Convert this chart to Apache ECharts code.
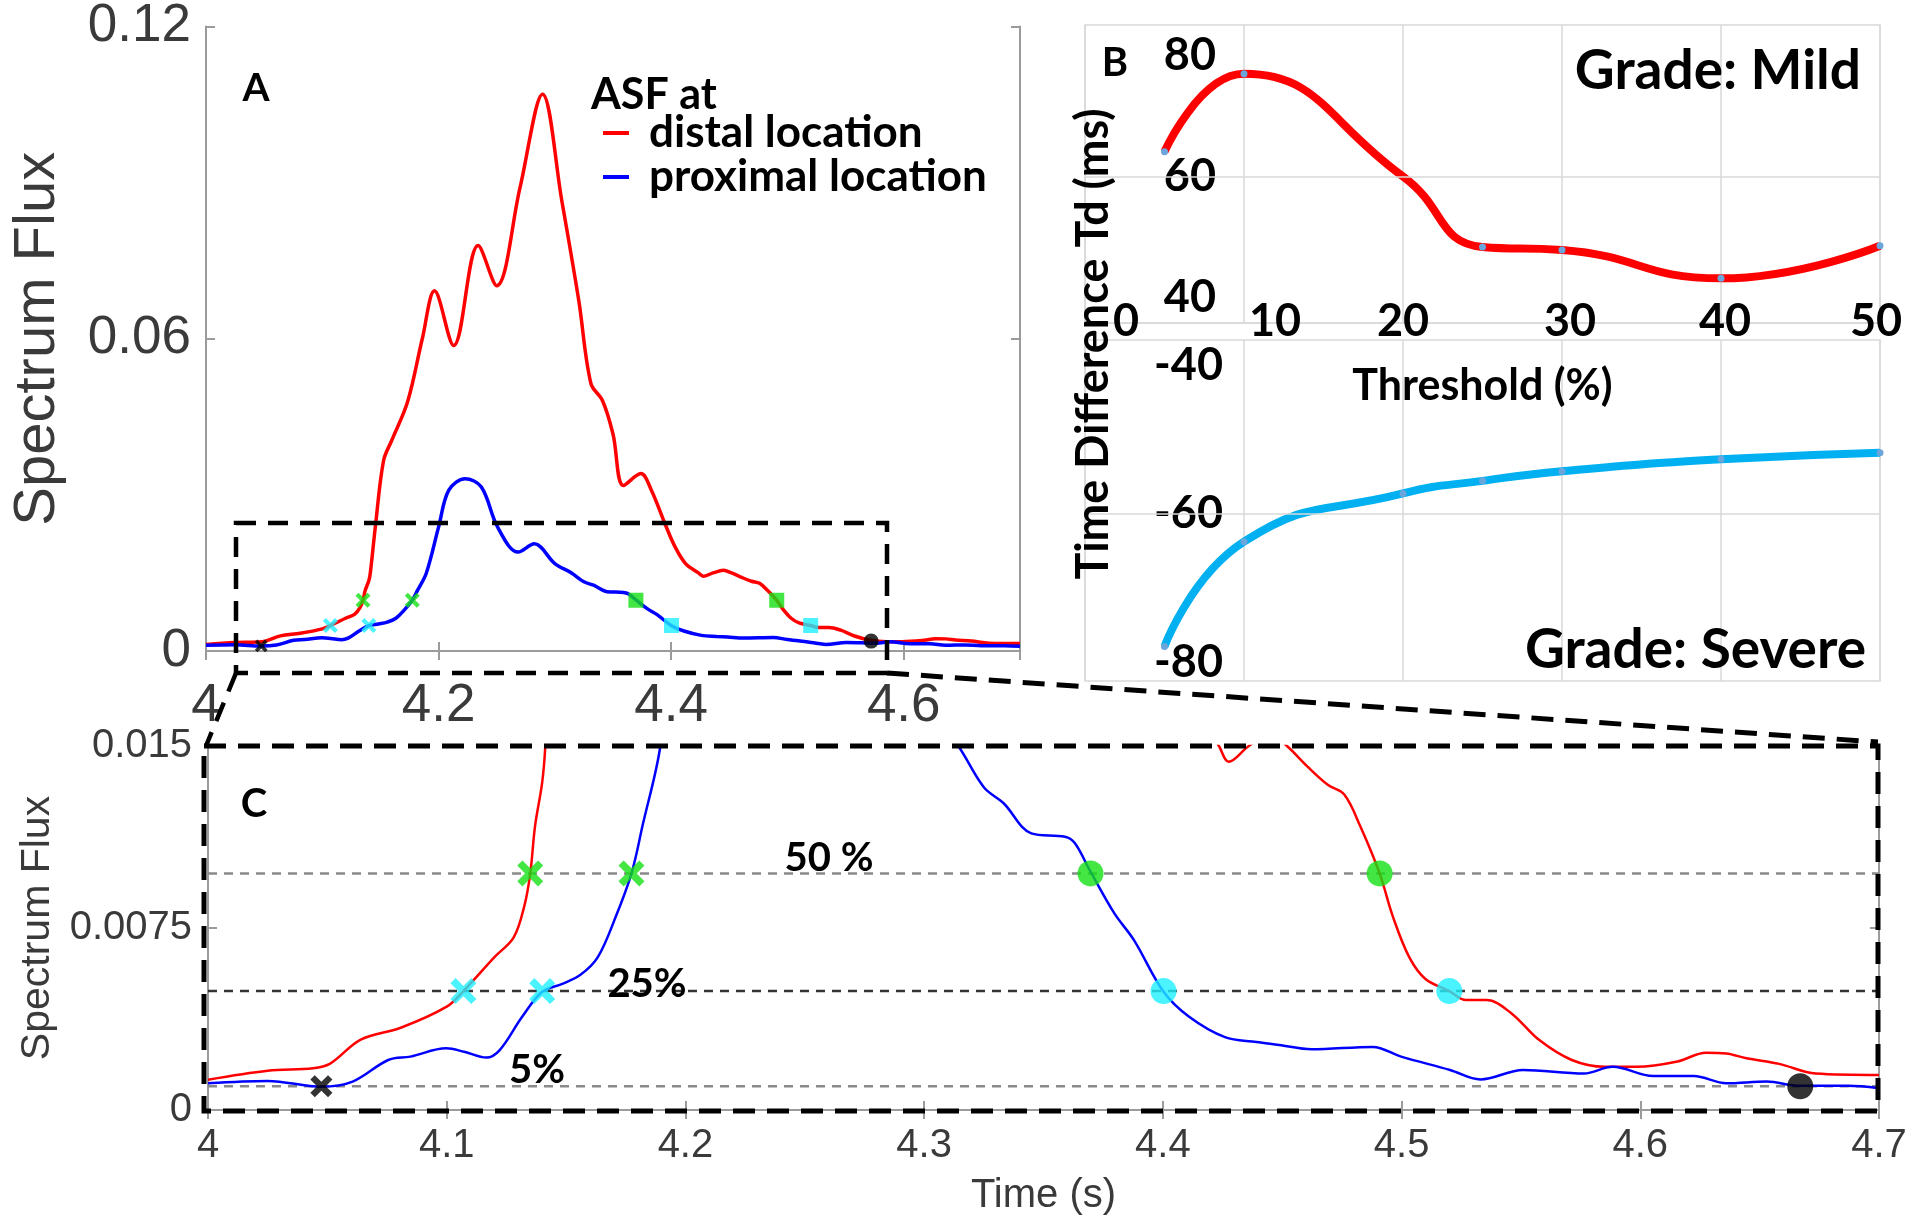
<!DOCTYPE html>
<html><head><meta charset="utf-8">
<script src="https://cdn.jsdelivr.net/npm/echarts@6/dist/echarts.min.js"></script>
<style>html,body{margin:0;padding:0;background:#fff}#c{width:1918px;height:1227px}</style>
</head><body><div id="c"></div>
<script>
// ---------- Panels A and C : spectrum flux of the ASF signals ----------
const distalTime = [
  4.000, 4.025, 4.044, 4.051, 4.064, 4.081, 4.100, 4.107, 4.120, 4.128,
  4.1325, 4.135, 4.137, 4.140, 4.1413, 4.1456, 4.1527, 4.1596, 4.1735, 4.186,
  4.1965, 4.213, 4.234, 4.250, 4.270, 4.2894, 4.306, 4.3206, 4.331, 4.341,
  4.350, 4.359, 4.374, 4.383, 4.3946, 4.4034, 4.4124, 4.4235, 4.4276, 4.436,
  4.445, 4.452, 4.4606, 4.4691, 4.476, 4.4828, 4.4908, 4.4964, 4.5032, 4.510,
  4.520, 4.527, 4.5356, 4.5458, 4.5577, 4.5713, 4.585, 4.5986, 4.6156, 4.6275,
  4.636, 4.6445, 4.6582, 4.6735, 4.700
];
const distalFlux = [
  0.00125, 0.00162, 0.00172, 0.0019, 0.0029, 0.0034, 0.00426, 0.0049, 0.0063, 0.0071,
  0.0084, 0.00975, 0.0117, 0.0135, 0.015, 0.0238, 0.0366, 0.0404, 0.048, 0.060,
  0.0692, 0.0587, 0.0779, 0.0702, 0.089, 0.107, 0.0865, 0.0673, 0.0514, 0.0481,
  0.0417, 0.0318, 0.0341, 0.0309, 0.0245, 0.020, 0.0168, 0.015, 0.01435, 0.015,
  0.0155, 0.015, 0.01415, 0.0134, 0.013, 0.01167, 0.00975, 0.00796, 0.0063, 0.0054,
  0.0049, 0.00453, 0.00453, 0.004, 0.00288, 0.00206, 0.00178, 0.00178, 0.002, 0.00236,
  0.00233, 0.00213, 0.0019, 0.0015, 0.00144
];
const proximalTime = [
  4.000, 4.025, 4.0475, 4.0606, 4.0755, 4.0848, 4.0998, 4.1073, 4.1166, 4.1222,
  4.1316, 4.140, 4.1484, 4.1559, 4.1633, 4.1708, 4.1774, 4.182, 4.1895, 4.200,
  4.2088, 4.2228, 4.2368, 4.2508, 4.2684, 4.2824, 4.300, 4.3143, 4.325, 4.3333,
  4.3449, 4.359, 4.3631, 4.3697, 4.3797, 4.3879, 4.4003, 4.411, 4.426, 4.4392,
  4.4487, 4.4623, 4.4879, 4.4998, 4.5203, 4.533, 4.5509, 4.5764, 4.5884, 4.6054,
  4.6224, 4.636, 4.653, 4.6667, 4.687, 4.700
];
const proximalFlux = [
  0.0011, 0.0012, 0.00096, 0.00117, 0.00206, 0.0022, 0.00254, 0.0024, 0.00216, 0.00247,
  0.00384, 0.00487, 0.0052, 0.00556, 0.0063, 0.00796, 0.00975, 0.0117, 0.015, 0.0238,
  0.0309, 0.0331, 0.0315, 0.0238, 0.019, 0.0206, 0.0168, 0.015, 0.0133, 0.01264,
  0.0114, 0.01126, 0.011, 0.00982, 0.0081, 0.007, 0.00487, 0.00384, 0.003, 0.0028,
  0.00268, 0.0025, 0.0026, 0.0022, 0.00165, 0.00126, 0.00165, 0.0015, 0.00178, 0.0014,
  0.0014, 0.0011, 0.00117, 0.001, 0.001, 0.0009
];

// threshold levels : 50 %, 25 %, 5 %
const thresholdNames = ['50 %', '25%', '5%'];
const thresholdLevels = [0.00975, 0.0049, 0.00098];
const timeRange = [4.0, 4.7];

// crossing times [50 %, 25 %]
const distalRiseTimes = [4.135, 4.107];
const proximalRiseTimes = [4.1774, 4.140];
const proximalFallTimes = [4.3697, 4.4003];
const distalFallTimes = [4.4908, 4.520];
const onsetTime = 4.0475;
const offsetTimeA = 4.572, offsetFluxA = 0.0019;
const offsetTimeC = 4.667;

// ---------- Panel B : time difference vs threshold ----------
const mildThreshold = [5, 10, 20, 25, 30, 40, 50];
const mildTd = [64.1, 77.0, 60.0, 48.3, 47.8, 43.1, 48.5];
const mildHasMarker = [true, true, false, true, true, true, true];
const severeThreshold = [5, 10, 20, 25, 30, 40, 50];
const severeTd = [-77.9, -63.8, -57.3, -55.6, -54.3, -52.7, -51.8];
const mildTicks = [40, 60, 80];
const severeTicks = [-80, -60, -40];

// ---------- helpers ----------
const pairs = (xs, ys) => xs.map((x, i) => [x, ys[i]]);
const AX = '#9b9b9b', TXT = '#3a3a3a', ARIAL = 'Liberation Sans, Arial, sans-serif', CAL = 'Lato, sans-serif';
const GREEN = '#14e014', CYAN = '#1ef0ff', GRIDC = '#d9d9d9';
const XSYM = 'path://M2,0 L5,3 L8,0 L10,2 L7,5 L10,8 L8,10 L5,7 L2,10 L0,8 L3,5 L0,2 Z';
const boxAxis = (extra) => Object.assign({
  type: 'value',
  axisLine: { show: true, lineStyle: { color: AX, width: 2 } },
  axisTick: { show: true, inside: true, length: 9, lineStyle: { color: AX, width: 2 } },
  splitLine: { show: false }
}, extra);

const lvl = thresholdLevels;
function markerSeries(xi, yi, ax, size, fallShape) {
  return [
    { name: 'rise50', type: 'scatter', xAxisIndex: xi, yAxisIndex: yi, symbol: XSYM, symbolSize: size,
      itemStyle: { color: GREEN }, z: 5,
      data: [[distalRiseTimes[0], lvl[0]], [proximalRiseTimes[0], lvl[0]]] },
    { name: 'rise25', type: 'scatter', xAxisIndex: xi, yAxisIndex: yi, symbol: XSYM, symbolSize: size,
      itemStyle: { color: CYAN }, z: 5,
      data: [[distalRiseTimes[1], lvl[1]], [proximalRiseTimes[1], lvl[1]]] },
    { name: 'onset', type: 'scatter', xAxisIndex: xi, yAxisIndex: yi, symbol: XSYM, symbolSize: size * 0.85,
      itemStyle: { color: '#000' }, z: 5, data: [[onsetTime, lvl[2]]] },
    { name: 'fall50', type: 'scatter', xAxisIndex: xi, yAxisIndex: yi, symbol: fallShape, symbolSize: size,
      itemStyle: { color: GREEN }, z: 5,
      data: [[proximalFallTimes[0], lvl[0]], [distalFallTimes[0], lvl[0]]] },
    { name: 'fall25', type: 'scatter', xAxisIndex: xi, yAxisIndex: yi, symbol: fallShape, symbolSize: size,
      itemStyle: { color: CYAN }, z: 5,
      data: [[proximalFallTimes[1], lvl[1]], [distalFallTimes[1], lvl[1]]] },
    { name: 'offset', type: 'scatter', xAxisIndex: xi, yAxisIndex: yi, symbol: 'circle', symbolSize: size,
      itemStyle: { color: '#000' }, z: 5,
      data: ax === 'A' ? [[offsetTimeA, offsetFluxA]] : [[offsetTimeC, lvl[2]]] }
  ];
}
const thresholdColors = ['#8a8a8a', '#333333', '#8a8a8a'];
const thresholdSeries = thresholdLevels.map((v, i) => ({
  name: 'threshold ' + thresholdNames[i], type: 'line', xAxisIndex: 2, yAxisIndex: 2,
  data: timeRange.map(t => [t, v]), symbol: 'none', silent: true, z: 2,
  lineStyle: { color: thresholdColors[i], type: [9, 7], width: 2.5 }
}));

const shiftB = { 0: [0, 0, 0, 82], 10: [0, 0, 0, 62], 30: [0, 0, 0, 16], 40: [0, 0, 0, 8], 50: [0, 8, 0, 0] };
const bLabelStyle = { fontFamily: CAL, fontWeight: 'bold', fontSize: 45, color: '#000' };
const richB = {};
Object.keys(shiftB).forEach(k => { richB['s' + k] = Object.assign({ padding: shiftB[k] }, bLabelStyle); });
richB.n = Object.assign({}, bLabelStyle);
const gridLineMark = (v) => ({ silent: true, symbol: 'none', label: { show: false },
  lineStyle: { color: GRIDC, type: 'solid', width: 1.5 }, data: [{ yAxis: v }] });

const option = {
  animation: false,
  backgroundColor: '#fff',
  grid: [
    { left: 206, top: 25, width: 814, height: 626, containLabel: false },
    { left: 208, top: 746, width: 1671, height: 364, containLabel: false },
    { left: 1085, top: 25, width: 795, height: 298, containLabel: false,
      show: true, borderColor: GRIDC, borderWidth: 1.5, backgroundColor: 'transparent' },
    { left: 1085, top: 340, width: 795, height: 341, containLabel: false,
      show: true, borderColor: GRIDC, borderWidth: 1.5, backgroundColor: 'transparent' }
  ],
  xAxis: [
    boxAxis({ gridIndex: 0, min: 4, max: 4.7, interval: 0.2,
      axisLabel: { fontFamily: ARIAL, fontSize: 53, color: TXT, margin: 29, showMaxLabel: false } }),
    boxAxis({ gridIndex: 0, position: 'top', min: 4, max: 4.7, interval: 0.2, axisLabel: { show: false } }),
    boxAxis({ gridIndex: 1, min: 4, max: 4.7, interval: 0.1,
      axisLabel: { fontFamily: ARIAL, fontSize: 40, color: TXT, margin: 16 },
      name: 'Time (s)', nameLocation: 'middle', nameGap: 66,
      nameTextStyle: { fontFamily: ARIAL, fontSize: 40, color: TXT } }),
    boxAxis({ gridIndex: 1, position: 'top', min: 4, max: 4.7, interval: 0.1, axisLabel: { show: false } }),
    { type: 'value', gridIndex: 2, min: 0, max: 50, interval: 10,
      axisLine: { show: true, lineStyle: { color: GRIDC, width: 1.5 } },
      axisTick: { show: false },
      axisLabel: { inside: true, margin: -21,
        formatter: v => (shiftB[v] ? '{s' + v + '|' + v + '}' : '{n|' + v + '}'), rich: richB },
      splitLine: { show: true, lineStyle: { color: GRIDC, width: 1.5 } },
      name: 'Threshold (%)', nameLocation: 'middle', nameGap: 42,
      nameTextStyle: { fontFamily: CAL, fontWeight: 'bold', fontSize: 43, color: '#000' } },
    { type: 'value', gridIndex: 3, min: 0, max: 50, interval: 10,
      axisLine: { show: false }, axisTick: { show: false }, axisLabel: { show: false },
      splitLine: { show: true, lineStyle: { color: GRIDC, width: 1.5 } } }
  ],
  yAxis: [
    boxAxis({ gridIndex: 0, min: 0, max: 0.12, interval: 0.06,
      axisLabel: { fontFamily: ARIAL, fontSize: 53, color: TXT, margin: 15 },
      name: 'Spectrum Flux', nameLocation: 'middle', nameGap: 139,
      nameTextStyle: { fontFamily: ARIAL, fontSize: 58, color: TXT } }),
    boxAxis({ gridIndex: 0, position: 'right', min: 0, max: 0.12, interval: 0.06, axisLabel: { show: false } }),
    boxAxis({ gridIndex: 1, min: 0, max: 0.015, interval: 0.0075,
      axisLabel: { fontFamily: ARIAL, fontSize: 40, color: TXT, margin: 16 },
      name: 'Spectrum Flux', nameLocation: 'middle', nameGap: 150,
      nameTextStyle: { fontFamily: ARIAL, fontSize: 41, color: TXT } }),
    boxAxis({ gridIndex: 1, position: 'right', min: 0, max: 0.015, interval: 0.0075, axisLabel: { show: false } }),
    { type: 'value', gridIndex: 2, position: 'left', min: 35.7, max: 85.1,
      axisLine: { show: false }, axisTick: { show: false }, splitLine: { show: false },
      axisLabel: Object.assign({ customValues: mildTicks, align: 'right', margin: -131 }, bLabelStyle) },
    { type: 'value', gridIndex: 3, position: 'left', min: -82.56, max: -36.63,
      axisLine: { show: false }, axisTick: { show: false }, splitLine: { show: false },
      axisLabel: Object.assign({ customValues: severeTicks, align: 'right', margin: -138 }, bLabelStyle) }
  ],
  legend: {
    data: ['distal location', 'proximal location'],
    orient: 'vertical', left: 598, top: 106, itemGap: 0,
    itemWidth: 26, itemHeight: 4, icon: 'rect',
    textStyle: { fontFamily: CAL, fontWeight: 'bold', fontSize: 44, color: '#000', lineHeight: 42, padding: [0, 0, 0, 15] }
  },
  series: [
    { name: 'distal location', type: 'line', xAxisIndex: 0, yAxisIndex: 0, data: pairs(distalTime, distalFlux),
      smooth: 0.35, symbol: 'none', itemStyle: { color: '#ff0000' }, lineStyle: { color: '#ff0000', width: 3.5 }, z: 3 },
    { name: 'proximal location', type: 'line', xAxisIndex: 0, yAxisIndex: 0, data: pairs(proximalTime, proximalFlux),
      smooth: 0.35, symbol: 'none', itemStyle: { color: '#0000ff' }, lineStyle: { color: '#0000ff', width: 3.5 }, z: 3 },
    ...thresholdSeries,
    { name: 'distal location', type: 'line', xAxisIndex: 2, yAxisIndex: 2, data: pairs(distalTime, distalFlux),
      smooth: 0.35, symbol: 'none', clip: true, itemStyle: { color: '#ff0000' }, lineStyle: { color: '#ff0000', width: 2.5 }, z: 3 },
    { name: 'proximal location', type: 'line', xAxisIndex: 2, yAxisIndex: 2, data: pairs(proximalTime, proximalFlux),
      smooth: 0.35, symbol: 'none', clip: true, itemStyle: { color: '#0000ff' }, lineStyle: { color: '#0000ff', width: 2.5 }, z: 3 },
    ...markerSeries(0, 0, 'A', 15, 'rect'),
    ...markerSeries(2, 2, 'C', 26, 'circle'),
    { name: 'Mild', type: 'line', xAxisIndex: 4, yAxisIndex: 4,
      data: mildThreshold.map((x, i) => mildHasMarker[i] ? [x, mildTd[i]] : { value: [x, mildTd[i]], symbol: 'none' }),
      smooth: 0.5, symbol: 'circle', symbolSize: 7, itemStyle: { color: '#6aa6dc' },
      lineStyle: { color: '#ff0000', width: 8 }, z: 3, markLine: gridLineMark(60) },
    { name: 'Severe', type: 'line', xAxisIndex: 5, yAxisIndex: 5, data: pairs(severeThreshold, severeTd),
      smooth: 0.5, symbol: 'circle', symbolSize: 7, itemStyle: { color: '#6aa6dc' },
      lineStyle: { color: '#00b0f0', width: 8 }, z: 3, markLine: gridLineMark(-60) }
  ],
  graphic: [
    // zoom region in A and its connection to C
    { type: 'rect', z: 100, shape: { x: 236, y: 523, width: 651, height: 150 },
      style: { fill: 'none', stroke: '#000', lineWidth: 4.5, lineDash: [20, 12] } },
    { type: 'line', z: 100, shape: { x1: 236, y1: 673, x2: 206, y2: 746 },
      style: { stroke: '#000', lineWidth: 4.5, lineDash: [20, 12] } },
    { type: 'line', z: 100, shape: { x1: 887, y1: 673, x2: 1878, y2: 742 },
      style: { stroke: '#000', lineWidth: 5, lineDash: [22, 12] } },
    { type: 'rect', z: 100, shape: { x: 204, y: 746, width: 1674, height: 365 },
      style: { fill: 'none', stroke: '#000', lineWidth: 5, lineDash: [22, 12] } },
    // panel letters and annotations
    { type: 'text', z: 101, x: 256, y: 88, style: { text: 'A', font: 'bold 39px Lato', fill: '#000', align: 'center', verticalAlign: 'middle', textAlign: 'center', textVerticalAlign: 'middle' } },
    { type: 'text', z: 101, x: 591, y: 95, style: { text: 'ASF at', font: 'bold 43px Lato', fill: '#000', align: 'left', verticalAlign: 'middle', textAlign: 'left', textVerticalAlign: 'middle' } },
    { type: 'text', z: 101, x: 1115, y: 63, style: { text: 'B', font: 'bold 40px Lato', fill: '#000', align: 'center', verticalAlign: 'middle', textAlign: 'center', textVerticalAlign: 'middle' } },
    { type: 'text', z: 101, x: 1861, y: 71, style: { text: 'Grade: Mild', font: 'bold 55px Lato', fill: '#000', align: 'right', verticalAlign: 'middle', textAlign: 'right', textVerticalAlign: 'middle' } },
    { type: 'text', z: 101, x: 1866, y: 650, style: { text: 'Grade: Severe', font: 'bold 55px Lato', fill: '#000', align: 'right', verticalAlign: 'middle', textAlign: 'right', textVerticalAlign: 'middle' } },
    { type: 'text', z: 101, x: 1093, y: 344, rotation: Math.PI / 2, style: { text: 'Time Difference Td (ms)', font: 'bold 45px Lato', fill: '#000', align: 'center', verticalAlign: 'middle', textAlign: 'center', textVerticalAlign: 'middle' } },
    { type: 'text', z: 101, x: 254, y: 804, style: { text: 'C', font: 'bold 40px Lato', fill: '#000', align: 'center', verticalAlign: 'middle', textAlign: 'center', textVerticalAlign: 'middle' } },
    { type: 'text', z: 101, x: 829, y: 858, style: { text: thresholdNames[0], font: 'bold 40px Lato', fill: '#000', align: 'center', verticalAlign: 'middle', textAlign: 'center', textVerticalAlign: 'middle' } },
    { type: 'text', z: 101, x: 647, y: 984, style: { text: thresholdNames[1], font: 'bold 40px Lato', fill: '#000', align: 'center', verticalAlign: 'middle', textAlign: 'center', textVerticalAlign: 'middle' } },
    { type: 'text', z: 101, x: 537, y: 1070, style: { text: thresholdNames[2], font: 'bold 40px Lato', fill: '#000', align: 'center', verticalAlign: 'middle', textAlign: 'center', textVerticalAlign: 'middle' } }
  ]
};

const chart = echarts.init(document.getElementById('c'), null, { renderer: 'canvas' });
chart.setOption(option);
</script>
</body></html>
